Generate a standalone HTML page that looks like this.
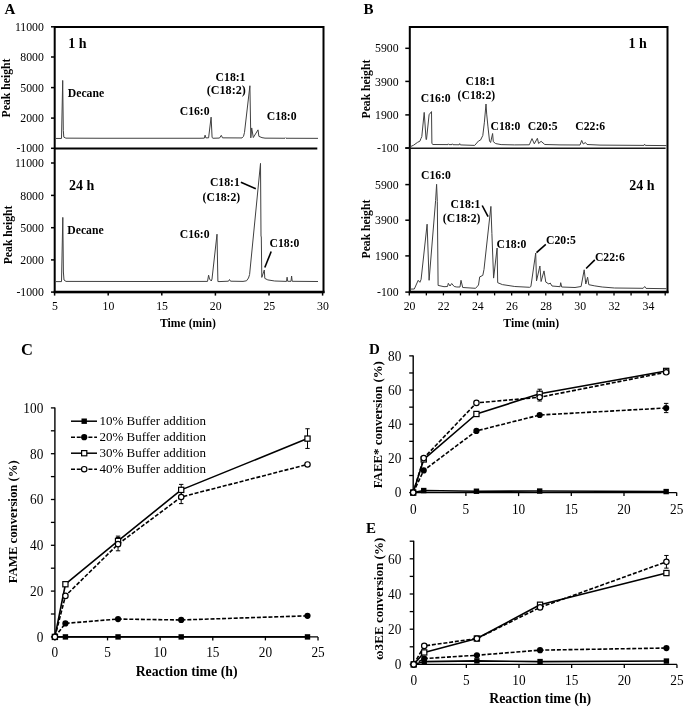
<!DOCTYPE html>
<html><head><meta charset="utf-8"><style>
html,body{margin:0;padding:0;background:#fff;}
svg{display:block;will-change:transform;}
text{font-family:"Liberation Serif", serif;fill:#000;}
</style></head><body>
<svg width="685" height="707" viewBox="0 0 685 707">
<rect width="685" height="707" fill="#fff"/>
<text x="4.60" y="13.50" font-size="15" font-weight="bold" text-anchor="start">A</text>
<rect x="54.7" y="27.0" width="268.8" height="265.1" fill="none" stroke="#000" stroke-width="2.0"/>
<line x1="54.90" y1="148.50" x2="317.30" y2="148.50" stroke="#000" stroke-width="2.0"/>
<line x1="53.70" y1="292.10" x2="324.50" y2="292.10" stroke="#000" stroke-width="2.5"/>
<line x1="51.00" y1="26.80" x2="54.90" y2="26.80" stroke="#000" stroke-width="1.5"/>
<text transform="translate(43.90,30.95) scale(1,1.04)" font-size="11.8" font-weight="normal" text-anchor="end">11000</text>
<line x1="51.00" y1="57.00" x2="54.90" y2="57.00" stroke="#000" stroke-width="1.5"/>
<text transform="translate(43.90,61.15) scale(1,1.04)" font-size="11.8" font-weight="normal" text-anchor="end">8000</text>
<line x1="51.00" y1="87.60" x2="54.90" y2="87.60" stroke="#000" stroke-width="1.5"/>
<text transform="translate(43.90,91.75) scale(1,1.04)" font-size="11.8" font-weight="normal" text-anchor="end">5000</text>
<line x1="51.00" y1="118.10" x2="54.90" y2="118.10" stroke="#000" stroke-width="1.5"/>
<text transform="translate(43.90,122.25) scale(1,1.04)" font-size="11.8" font-weight="normal" text-anchor="end">2000</text>
<line x1="51.00" y1="148.30" x2="54.90" y2="148.30" stroke="#000" stroke-width="1.5"/>
<text transform="translate(43.90,152.45) scale(1,1.04)" font-size="11.8" font-weight="normal" text-anchor="end">-1000</text>
<line x1="51.00" y1="163.00" x2="54.90" y2="163.00" stroke="#000" stroke-width="1.5"/>
<text transform="translate(43.90,167.15) scale(1,1.04)" font-size="11.8" font-weight="normal" text-anchor="end">11000</text>
<line x1="51.00" y1="195.40" x2="54.90" y2="195.40" stroke="#000" stroke-width="1.5"/>
<text transform="translate(43.90,199.55) scale(1,1.04)" font-size="11.8" font-weight="normal" text-anchor="end">8000</text>
<line x1="51.00" y1="227.70" x2="54.90" y2="227.70" stroke="#000" stroke-width="1.5"/>
<text transform="translate(43.90,231.85) scale(1,1.04)" font-size="11.8" font-weight="normal" text-anchor="end">5000</text>
<line x1="51.00" y1="259.90" x2="54.90" y2="259.90" stroke="#000" stroke-width="1.5"/>
<text transform="translate(43.90,264.05) scale(1,1.04)" font-size="11.8" font-weight="normal" text-anchor="end">2000</text>
<line x1="51.00" y1="292.10" x2="54.90" y2="292.10" stroke="#000" stroke-width="1.5"/>
<text transform="translate(43.90,296.25) scale(1,1.04)" font-size="11.8" font-weight="normal" text-anchor="end">-1000</text>
<line x1="54.60" y1="292.10" x2="54.60" y2="295.60" stroke="#000" stroke-width="1.5"/>
<text transform="translate(54.90,310.45) scale(1,1.05)" font-size="11.8" font-weight="normal" text-anchor="middle">5</text>
<line x1="108.20" y1="292.10" x2="108.20" y2="295.60" stroke="#000" stroke-width="1.5"/>
<text transform="translate(108.50,310.45) scale(1,1.05)" font-size="11.8" font-weight="normal" text-anchor="middle">10</text>
<line x1="161.80" y1="292.10" x2="161.80" y2="295.60" stroke="#000" stroke-width="1.5"/>
<text transform="translate(162.10,310.45) scale(1,1.05)" font-size="11.8" font-weight="normal" text-anchor="middle">15</text>
<line x1="215.40" y1="292.10" x2="215.40" y2="295.60" stroke="#000" stroke-width="1.5"/>
<text transform="translate(215.70,310.45) scale(1,1.05)" font-size="11.8" font-weight="normal" text-anchor="middle">20</text>
<line x1="269.00" y1="292.10" x2="269.00" y2="295.60" stroke="#000" stroke-width="1.5"/>
<text transform="translate(269.30,310.45) scale(1,1.05)" font-size="11.8" font-weight="normal" text-anchor="middle">25</text>
<line x1="322.60" y1="292.10" x2="322.60" y2="295.60" stroke="#000" stroke-width="1.5"/>
<text transform="translate(322.90,310.45) scale(1,1.05)" font-size="11.8" font-weight="normal" text-anchor="middle">30</text>
<text x="188.00" y="326.80" font-size="11.7" font-weight="bold" text-anchor="middle">Time (min)</text>
<text transform="translate(10.30,88.00) rotate(-90)" font-size="11.7" font-weight="bold" text-anchor="middle">Peak height</text>
<text transform="translate(11.80,234.90) rotate(-90)" font-size="11.7" font-weight="bold" text-anchor="middle">Peak height</text>
<polyline points="55.80,138.45 61.50,138.45 62.70,80.45 63.30,130.35 63.80,137.15 65.90,138.15 100.00,138.25 200.00,138.25 204.30,138.15 205.10,135.15 205.80,137.85 208.60,137.85 211.10,117.15 212.10,137.55 213.00,138.25 219.50,138.05 221.30,135.35 222.50,137.85 242.00,137.95 243.50,136.35 244.50,132.35 249.90,85.75 250.80,137.85 251.70,127.95 253.30,137.55 258.00,129.85 258.90,136.35 262.00,137.65 265.00,138.15 285.00,138.25 285.50,137.75 286.00,138.25 318.00,138.35" fill="none" stroke="#404040" stroke-width="1.0" stroke-linejoin="round"/>
<polyline points="55.80,281.60 61.50,281.60 62.80,217.40 63.40,272.00 64.00,280.00 66.00,281.40 150.00,281.50 207.50,281.40 208.60,275.20 209.50,279.00 211.30,281.00 212.00,279.00 217.00,234.20 217.90,281.50 219.00,281.60 228.50,281.20 229.50,279.50 230.50,281.20 243.00,281.40 246.50,280.80 248.50,278.00 249.60,274.50 260.50,163.40 261.00,236.00 261.30,237.00 261.80,277.40 264.30,270.00 264.80,278.40 267.80,279.90 274.70,281.00 286.50,281.40 287.10,277.20 287.70,281.30 291.00,281.30 291.60,276.00 292.20,281.30 318.00,281.50" fill="none" stroke="#404040" stroke-width="1.0" stroke-linejoin="round"/>
<text x="67.80" y="97.00" font-size="11.7" font-weight="bold" text-anchor="start">Decane</text>
<text x="68.30" y="48.40" font-size="14" font-weight="bold" text-anchor="start">1 h</text>
<text x="179.70" y="114.60" font-size="11.7" font-weight="bold" text-anchor="start">C16:0</text>
<text x="215.60" y="80.90" font-size="11.7" font-weight="bold" text-anchor="start">C18:1</text>
<text x="206.80" y="94.10" font-size="12.1" font-weight="bold" text-anchor="start">(C18:2)</text>
<text x="266.70" y="119.60" font-size="11.7" font-weight="bold" text-anchor="start">C18:0</text>
<text x="67.30" y="233.80" font-size="11.7" font-weight="bold" text-anchor="start">Decane</text>
<text x="68.90" y="190.20" font-size="14" font-weight="bold" text-anchor="start">24 h</text>
<text x="179.70" y="237.50" font-size="11.7" font-weight="bold" text-anchor="start">C16:0</text>
<text x="209.90" y="186.00" font-size="11.7" font-weight="bold" text-anchor="start">C18:1</text>
<text x="202.60" y="200.50" font-size="11.7" font-weight="bold" text-anchor="start">(C18:2)</text>
<text x="269.50" y="247.20" font-size="11.7" font-weight="bold" text-anchor="start">C18:0</text>
<line x1="240.90" y1="182.30" x2="255.80" y2="188.70" stroke="#000" stroke-width="1.6"/>
<line x1="271.20" y1="251.50" x2="264.80" y2="267.50" stroke="#000" stroke-width="1.6"/>
<text x="363.60" y="13.60" font-size="15" font-weight="bold" text-anchor="start">B</text>
<rect x="409.8" y="27.0" width="257.7" height="265.1" fill="none" stroke="#000" stroke-width="2.0"/>
<line x1="405.30" y1="148.30" x2="665.60" y2="148.30" stroke="#1a1a1a" stroke-width="1.6"/>
<line x1="408.80" y1="292.10" x2="668.50" y2="292.10" stroke="#000" stroke-width="2.5"/>
<line x1="405.30" y1="48.30" x2="409.40" y2="48.30" stroke="#000" stroke-width="1.5"/>
<text transform="translate(398.60,52.45) scale(1,1.04)" font-size="11.8" font-weight="normal" text-anchor="end">5900</text>
<line x1="405.30" y1="81.40" x2="409.40" y2="81.40" stroke="#000" stroke-width="1.5"/>
<text transform="translate(398.60,85.55) scale(1,1.04)" font-size="11.8" font-weight="normal" text-anchor="end">3900</text>
<line x1="405.30" y1="114.90" x2="409.40" y2="114.90" stroke="#000" stroke-width="1.5"/>
<text transform="translate(398.60,119.05) scale(1,1.04)" font-size="11.8" font-weight="normal" text-anchor="end">1900</text>
<line x1="405.30" y1="147.90" x2="409.40" y2="147.90" stroke="#000" stroke-width="1.5"/>
<text transform="translate(398.60,152.05) scale(1,1.04)" font-size="11.8" font-weight="normal" text-anchor="end">-100</text>
<line x1="405.30" y1="184.60" x2="409.40" y2="184.60" stroke="#000" stroke-width="1.5"/>
<text transform="translate(398.60,188.75) scale(1,1.04)" font-size="11.8" font-weight="normal" text-anchor="end">5900</text>
<line x1="405.30" y1="220.20" x2="409.40" y2="220.20" stroke="#000" stroke-width="1.5"/>
<text transform="translate(398.60,224.35) scale(1,1.04)" font-size="11.8" font-weight="normal" text-anchor="end">3900</text>
<line x1="405.30" y1="255.90" x2="409.40" y2="255.90" stroke="#000" stroke-width="1.5"/>
<text transform="translate(398.60,260.05) scale(1,1.04)" font-size="11.8" font-weight="normal" text-anchor="end">1900</text>
<line x1="405.30" y1="292.10" x2="409.40" y2="292.10" stroke="#000" stroke-width="1.5"/>
<text transform="translate(398.60,296.25) scale(1,1.04)" font-size="11.8" font-weight="normal" text-anchor="end">-100</text>
<line x1="409.30" y1="292.10" x2="409.30" y2="295.40" stroke="#000" stroke-width="1.3"/>
<text transform="translate(409.60,310.20) scale(1,1.05)" font-size="11.8" font-weight="normal" text-anchor="middle">20</text>
<line x1="426.36" y1="292.10" x2="426.36" y2="295.40" stroke="#000" stroke-width="1.3"/>
<line x1="443.42" y1="292.10" x2="443.42" y2="295.40" stroke="#000" stroke-width="1.3"/>
<text transform="translate(443.72,310.20) scale(1,1.05)" font-size="11.8" font-weight="normal" text-anchor="middle">22</text>
<line x1="460.48" y1="292.10" x2="460.48" y2="295.40" stroke="#000" stroke-width="1.3"/>
<line x1="477.54" y1="292.10" x2="477.54" y2="295.40" stroke="#000" stroke-width="1.3"/>
<text transform="translate(477.84,310.20) scale(1,1.05)" font-size="11.8" font-weight="normal" text-anchor="middle">24</text>
<line x1="494.60" y1="292.10" x2="494.60" y2="295.40" stroke="#000" stroke-width="1.3"/>
<line x1="511.66" y1="292.10" x2="511.66" y2="295.40" stroke="#000" stroke-width="1.3"/>
<text transform="translate(511.96,310.20) scale(1,1.05)" font-size="11.8" font-weight="normal" text-anchor="middle">26</text>
<line x1="528.72" y1="292.10" x2="528.72" y2="295.40" stroke="#000" stroke-width="1.3"/>
<line x1="545.78" y1="292.10" x2="545.78" y2="295.40" stroke="#000" stroke-width="1.3"/>
<text transform="translate(546.08,310.20) scale(1,1.05)" font-size="11.8" font-weight="normal" text-anchor="middle">28</text>
<line x1="562.84" y1="292.10" x2="562.84" y2="295.40" stroke="#000" stroke-width="1.3"/>
<line x1="579.90" y1="292.10" x2="579.90" y2="295.40" stroke="#000" stroke-width="1.3"/>
<text transform="translate(580.20,310.20) scale(1,1.05)" font-size="11.8" font-weight="normal" text-anchor="middle">30</text>
<line x1="596.96" y1="292.10" x2="596.96" y2="295.40" stroke="#000" stroke-width="1.3"/>
<line x1="614.02" y1="292.10" x2="614.02" y2="295.40" stroke="#000" stroke-width="1.3"/>
<text transform="translate(614.32,310.20) scale(1,1.05)" font-size="11.8" font-weight="normal" text-anchor="middle">32</text>
<line x1="631.08" y1="292.10" x2="631.08" y2="295.40" stroke="#000" stroke-width="1.3"/>
<line x1="648.14" y1="292.10" x2="648.14" y2="295.40" stroke="#000" stroke-width="1.3"/>
<text transform="translate(648.44,310.20) scale(1,1.05)" font-size="11.8" font-weight="normal" text-anchor="middle">34</text>
<line x1="665.20" y1="292.10" x2="665.20" y2="295.40" stroke="#000" stroke-width="1.3"/>
<text x="531.30" y="326.80" font-size="11.7" font-weight="bold" text-anchor="middle">Time (min)</text>
<text transform="translate(370.00,89.10) rotate(-90)" font-size="11.7" font-weight="bold" text-anchor="middle">Peak height</text>
<text transform="translate(370.00,229.10) rotate(-90)" font-size="11.7" font-weight="bold" text-anchor="middle">Peak height</text>
<polyline points="410.50,146.60 413.60,145.20 417.60,142.30 419.90,141.20 421.00,138.40 421.80,136.60 424.20,112.40 426.10,139.60 426.50,139.40 429.10,114.70 431.50,111.60 431.90,143.60 433.00,144.50 448.00,144.60 448.40,143.80 449.00,144.60 452.00,144.60 452.40,143.80 453.00,144.70 459.20,144.80 459.70,143.60 460.30,144.90 474.70,145.40 478.60,140.90 480.50,140.10 482.80,135.50 484.40,122.20 486.00,104.00 486.70,114.10 487.90,126.10 489.50,140.90 490.60,142.50 492.60,133.50 493.30,141.70 495.70,143.60 501.10,144.60 514.50,144.90 529.30,144.80 532.00,138.60 534.30,143.80 537.40,138.30 538.60,143.50 541.10,141.30 544.80,144.50 560.00,144.90 580.00,145.00 581.70,140.40 583.30,144.00 585.40,142.50 587.00,144.50 600.00,145.10 644.00,145.40 644.60,144.20 645.30,145.40 666.50,145.60" fill="none" stroke="#404040" stroke-width="1.0" stroke-linejoin="round"/>
<polyline points="410.30,289.10 414.30,289.00 418.20,280.30 419.90,282.30 421.10,279.40 427.10,224.20 429.10,280.30 435.60,200.50 436.60,184.30 437.30,201.30 438.10,285.40 444.00,286.70 447.50,286.50 448.30,283.30 450.00,286.00 451.70,283.50 454.20,286.50 456.80,287.00 460.00,287.00 461.00,280.30 462.70,287.50 475.60,288.30 478.50,285.00 479.70,276.90 482.80,275.40 484.00,269.40 490.90,206.40 491.90,233.50 493.60,278.10 497.10,248.00 497.70,282.70 502.40,284.60 514.80,286.50 529.70,287.30 530.90,286.50 535.70,253.00 536.50,280.90 539.90,266.00 541.10,281.50 544.00,270.90 545.80,282.10 548.90,284.00 550.20,283.00 552.00,286.00 560.10,286.70 560.70,282.70 561.70,287.00 575.00,287.50 581.10,286.50 584.20,269.80 585.80,284.00 587.60,277.20 588.80,284.70 594.80,285.90 602.20,287.00 614.60,288.00 643.20,288.30 644.70,286.50 646.00,288.40 666.50,288.70" fill="none" stroke="#404040" stroke-width="1.0" stroke-linejoin="round"/>
<text x="420.80" y="102.00" font-size="11.7" font-weight="bold" text-anchor="start">C16:0</text>
<text x="465.50" y="84.60" font-size="11.7" font-weight="bold" text-anchor="start">C18:1</text>
<text x="457.60" y="98.90" font-size="11.7" font-weight="bold" text-anchor="start">(C18:2)</text>
<text x="490.50" y="129.70" font-size="11.7" font-weight="bold" text-anchor="start">C18:0</text>
<text x="527.80" y="129.90" font-size="11.7" font-weight="bold" text-anchor="start">C20:5</text>
<text x="575.30" y="129.90" font-size="11.7" font-weight="bold" text-anchor="start">C22:6</text>
<text x="628.40" y="47.90" font-size="14" font-weight="bold" text-anchor="start">1 h</text>
<text x="421.00" y="179.30" font-size="11.7" font-weight="bold" text-anchor="start">C16:0</text>
<text x="450.60" y="208.20" font-size="11.7" font-weight="bold" text-anchor="start">C18:1</text>
<text x="442.80" y="221.90" font-size="11.7" font-weight="bold" text-anchor="start">(C18:2)</text>
<text x="496.50" y="248.10" font-size="11.7" font-weight="bold" text-anchor="start">C18:0</text>
<text x="546.00" y="244.20" font-size="11.7" font-weight="bold" text-anchor="start">C20:5</text>
<text x="594.90" y="260.60" font-size="11.7" font-weight="bold" text-anchor="start">C22:6</text>
<text x="629.20" y="189.90" font-size="14" font-weight="bold" text-anchor="start">24 h</text>
<line x1="482.20" y1="205.50" x2="488.10" y2="216.70" stroke="#000" stroke-width="1.6"/>
<line x1="545.80" y1="244.30" x2="536.50" y2="252.60" stroke="#000" stroke-width="1.6"/>
<line x1="594.80" y1="259.90" x2="586.10" y2="268.50" stroke="#000" stroke-width="1.6"/>
<text x="21.00" y="354.90" font-size="16.5" font-weight="bold" text-anchor="start">C</text>
<line x1="54.90" y1="407.40" x2="54.90" y2="636.90" stroke="#000" stroke-width="1.4"/>
<line x1="54.90" y1="636.90" x2="318.02" y2="636.90" stroke="#000" stroke-width="1.4"/>
<line x1="50.90" y1="636.90" x2="54.90" y2="636.90" stroke="#000" stroke-width="1.3"/>
<text transform="translate(43.30,641.70) scale(1,1.07)" font-size="13.3" font-weight="normal" text-anchor="end">0</text>
<line x1="50.90" y1="614.00" x2="54.90" y2="614.00" stroke="#000" stroke-width="1.3"/>
<line x1="50.90" y1="591.10" x2="54.90" y2="591.10" stroke="#000" stroke-width="1.3"/>
<text transform="translate(43.30,595.90) scale(1,1.07)" font-size="13.3" font-weight="normal" text-anchor="end">20</text>
<line x1="50.90" y1="568.20" x2="54.90" y2="568.20" stroke="#000" stroke-width="1.3"/>
<line x1="50.90" y1="545.30" x2="54.90" y2="545.30" stroke="#000" stroke-width="1.3"/>
<text transform="translate(43.30,550.10) scale(1,1.07)" font-size="13.3" font-weight="normal" text-anchor="end">40</text>
<line x1="50.90" y1="522.40" x2="54.90" y2="522.40" stroke="#000" stroke-width="1.3"/>
<line x1="50.90" y1="499.50" x2="54.90" y2="499.50" stroke="#000" stroke-width="1.3"/>
<text transform="translate(43.30,504.30) scale(1,1.07)" font-size="13.3" font-weight="normal" text-anchor="end">60</text>
<line x1="50.90" y1="476.60" x2="54.90" y2="476.60" stroke="#000" stroke-width="1.3"/>
<line x1="50.90" y1="453.70" x2="54.90" y2="453.70" stroke="#000" stroke-width="1.3"/>
<text transform="translate(43.30,458.50) scale(1,1.07)" font-size="13.3" font-weight="normal" text-anchor="end">80</text>
<line x1="50.90" y1="430.80" x2="54.90" y2="430.80" stroke="#000" stroke-width="1.3"/>
<line x1="50.90" y1="407.90" x2="54.90" y2="407.90" stroke="#000" stroke-width="1.3"/>
<text transform="translate(43.30,412.70) scale(1,1.07)" font-size="13.3" font-weight="normal" text-anchor="end">100</text>
<line x1="54.90" y1="636.90" x2="54.90" y2="640.40" stroke="#000" stroke-width="1.3"/>
<text transform="translate(54.90,657.40) scale(1,1.07)" font-size="13.3" font-weight="normal" text-anchor="middle">0</text>
<line x1="107.53" y1="636.90" x2="107.53" y2="640.40" stroke="#000" stroke-width="1.3"/>
<text transform="translate(107.53,657.40) scale(1,1.07)" font-size="13.3" font-weight="normal" text-anchor="middle">5</text>
<line x1="160.15" y1="636.90" x2="160.15" y2="640.40" stroke="#000" stroke-width="1.3"/>
<text transform="translate(160.15,657.40) scale(1,1.07)" font-size="13.3" font-weight="normal" text-anchor="middle">10</text>
<line x1="212.78" y1="636.90" x2="212.78" y2="640.40" stroke="#000" stroke-width="1.3"/>
<text transform="translate(212.78,657.40) scale(1,1.07)" font-size="13.3" font-weight="normal" text-anchor="middle">15</text>
<line x1="265.40" y1="636.90" x2="265.40" y2="640.40" stroke="#000" stroke-width="1.3"/>
<text transform="translate(265.40,657.40) scale(1,1.07)" font-size="13.3" font-weight="normal" text-anchor="middle">20</text>
<line x1="318.02" y1="636.90" x2="318.02" y2="640.40" stroke="#000" stroke-width="1.3"/>
<text transform="translate(318.02,657.40) scale(1,1.07)" font-size="13.3" font-weight="normal" text-anchor="middle">25</text>
<text x="186.60" y="676.20" font-size="13.8" font-weight="bold" text-anchor="middle">Reaction time (h)</text>
<text transform="translate(17.10,521.70) rotate(-90)" font-size="12.75" font-weight="bold" text-anchor="middle">FAME conversion (%)</text>
<line x1="118.05" y1="536.14" x2="118.05" y2="545.76" stroke="#000" stroke-width="1.0"/>
<line x1="115.85" y1="536.14" x2="120.25" y2="536.14" stroke="#000" stroke-width="1.0"/>
<line x1="115.85" y1="545.76" x2="120.25" y2="545.76" stroke="#000" stroke-width="1.0"/>
<line x1="118.05" y1="537.51" x2="118.05" y2="550.80" stroke="#000" stroke-width="1.0"/>
<line x1="115.85" y1="537.51" x2="120.25" y2="537.51" stroke="#000" stroke-width="1.0"/>
<line x1="115.85" y1="550.80" x2="120.25" y2="550.80" stroke="#000" stroke-width="1.0"/>
<line x1="181.20" y1="484.39" x2="181.20" y2="495.38" stroke="#000" stroke-width="1.0"/>
<line x1="179.00" y1="484.39" x2="183.40" y2="484.39" stroke="#000" stroke-width="1.0"/>
<line x1="179.00" y1="495.38" x2="183.40" y2="495.38" stroke="#000" stroke-width="1.0"/>
<line x1="181.20" y1="490.34" x2="181.20" y2="503.62" stroke="#000" stroke-width="1.0"/>
<line x1="179.00" y1="490.34" x2="183.40" y2="490.34" stroke="#000" stroke-width="1.0"/>
<line x1="179.00" y1="503.62" x2="183.40" y2="503.62" stroke="#000" stroke-width="1.0"/>
<line x1="307.50" y1="428.74" x2="307.50" y2="448.43" stroke="#000" stroke-width="1.0"/>
<line x1="305.30" y1="428.74" x2="309.70" y2="428.74" stroke="#000" stroke-width="1.0"/>
<line x1="305.30" y1="448.43" x2="309.70" y2="448.43" stroke="#000" stroke-width="1.0"/>
<polyline points="54.90,636.90 65.42,636.90 118.05,636.90 181.20,636.90 307.50,636.90" fill="none" stroke="#000" stroke-width="1.6" stroke-linejoin="round"/>
<polyline points="54.90,636.90 65.42,623.39 118.05,619.04 181.20,619.95 307.50,615.83" fill="none" stroke="#000" stroke-width="1.6" stroke-linejoin="round" stroke-dasharray="4 1.8"/>
<polyline points="54.90,636.90 65.42,584.23 118.05,540.95 181.20,489.88 307.50,438.59" fill="none" stroke="#000" stroke-width="1.6" stroke-linejoin="round"/>
<polyline points="54.90,636.90 65.42,595.91 118.05,544.15 181.20,496.98 307.50,464.46" fill="none" stroke="#000" stroke-width="1.6" stroke-linejoin="round" stroke-dasharray="4 1.8"/>
<rect x="52.20" y="634.20" width="5.4" height="5.4" fill="#000"/>
<rect x="62.72" y="634.20" width="5.4" height="5.4" fill="#000"/>
<rect x="115.35" y="634.20" width="5.4" height="5.4" fill="#000"/>
<rect x="178.50" y="634.20" width="5.4" height="5.4" fill="#000"/>
<rect x="304.80" y="634.20" width="5.4" height="5.4" fill="#000"/>
<circle cx="54.90" cy="636.90" r="3.1" fill="#000"/>
<circle cx="65.42" cy="623.39" r="3.1" fill="#000"/>
<circle cx="118.05" cy="619.04" r="3.1" fill="#000"/>
<circle cx="181.20" cy="619.95" r="3.1" fill="#000"/>
<circle cx="307.50" cy="615.83" r="3.1" fill="#000"/>
<rect x="52.30" y="634.30" width="5.2" height="5.2" fill="#fff" stroke="#000" stroke-width="1.2"/>
<rect x="62.82" y="581.63" width="5.2" height="5.2" fill="#fff" stroke="#000" stroke-width="1.2"/>
<rect x="115.45" y="538.35" width="5.2" height="5.2" fill="#fff" stroke="#000" stroke-width="1.2"/>
<rect x="178.60" y="487.28" width="5.2" height="5.2" fill="#fff" stroke="#000" stroke-width="1.2"/>
<rect x="304.90" y="435.99" width="5.2" height="5.2" fill="#fff" stroke="#000" stroke-width="1.2"/>
<circle cx="54.90" cy="636.90" r="2.7" fill="#fff" stroke="#000" stroke-width="1.2"/>
<circle cx="65.42" cy="595.91" r="2.7" fill="#fff" stroke="#000" stroke-width="1.2"/>
<circle cx="118.05" cy="544.15" r="2.7" fill="#fff" stroke="#000" stroke-width="1.2"/>
<circle cx="181.20" cy="496.98" r="2.7" fill="#fff" stroke="#000" stroke-width="1.2"/>
<circle cx="307.50" cy="464.46" r="2.7" fill="#fff" stroke="#000" stroke-width="1.2"/>
<line x1="71.00" y1="421.20" x2="97.00" y2="421.20" stroke="#000" stroke-width="1.5"/>
<rect x="81.50" y="418.50" width="5.4" height="5.4" fill="#000"/>
<text x="99.40" y="424.90" font-size="13.0" font-weight="normal" text-anchor="start">10% Buffer addition</text>
<line x1="71.00" y1="437.20" x2="97.00" y2="437.20" stroke="#000" stroke-width="1.5" stroke-dasharray="4 1.8"/>
<circle cx="84.20" cy="437.20" r="3.1" fill="#000"/>
<text x="99.40" y="440.90" font-size="13.0" font-weight="normal" text-anchor="start">20% Buffer addition</text>
<line x1="71.00" y1="453.20" x2="97.00" y2="453.20" stroke="#000" stroke-width="1.5"/>
<rect x="81.60" y="450.60" width="5.2" height="5.2" fill="#fff" stroke="#000" stroke-width="1.2"/>
<text x="99.40" y="456.90" font-size="13.0" font-weight="normal" text-anchor="start">30% Buffer addition</text>
<line x1="71.00" y1="469.20" x2="97.00" y2="469.20" stroke="#000" stroke-width="1.5" stroke-dasharray="4 1.8"/>
<circle cx="84.20" cy="469.20" r="2.7" fill="#fff" stroke="#000" stroke-width="1.2"/>
<text x="99.40" y="472.90" font-size="13.0" font-weight="normal" text-anchor="start">40% Buffer addition</text>
<text x="369.00" y="354.40" font-size="15" font-weight="bold" text-anchor="start">D</text>
<line x1="413.20" y1="355.38" x2="413.20" y2="492.60" stroke="#000" stroke-width="1.4"/>
<line x1="413.20" y1="492.60" x2="676.70" y2="492.60" stroke="#000" stroke-width="1.4"/>
<line x1="409.20" y1="492.60" x2="413.20" y2="492.60" stroke="#000" stroke-width="1.3"/>
<text transform="translate(401.30,497.40) scale(1,1.07)" font-size="13.3" font-weight="normal" text-anchor="end">0</text>
<line x1="409.20" y1="475.51" x2="413.20" y2="475.51" stroke="#000" stroke-width="1.3"/>
<line x1="409.20" y1="458.42" x2="413.20" y2="458.42" stroke="#000" stroke-width="1.3"/>
<text transform="translate(401.30,463.22) scale(1,1.07)" font-size="13.3" font-weight="normal" text-anchor="end">20</text>
<line x1="409.20" y1="441.33" x2="413.20" y2="441.33" stroke="#000" stroke-width="1.3"/>
<line x1="409.20" y1="424.24" x2="413.20" y2="424.24" stroke="#000" stroke-width="1.3"/>
<text transform="translate(401.30,429.04) scale(1,1.07)" font-size="13.3" font-weight="normal" text-anchor="end">40</text>
<line x1="409.20" y1="407.15" x2="413.20" y2="407.15" stroke="#000" stroke-width="1.3"/>
<line x1="409.20" y1="390.06" x2="413.20" y2="390.06" stroke="#000" stroke-width="1.3"/>
<text transform="translate(401.30,394.86) scale(1,1.07)" font-size="13.3" font-weight="normal" text-anchor="end">60</text>
<line x1="409.20" y1="372.97" x2="413.20" y2="372.97" stroke="#000" stroke-width="1.3"/>
<line x1="409.20" y1="355.88" x2="413.20" y2="355.88" stroke="#000" stroke-width="1.3"/>
<text transform="translate(401.30,360.68) scale(1,1.07)" font-size="13.3" font-weight="normal" text-anchor="end">80</text>
<line x1="413.20" y1="492.60" x2="413.20" y2="496.10" stroke="#000" stroke-width="1.3"/>
<text transform="translate(413.20,513.60) scale(1,1.07)" font-size="13.3" font-weight="normal" text-anchor="middle">0</text>
<line x1="465.90" y1="492.60" x2="465.90" y2="496.10" stroke="#000" stroke-width="1.3"/>
<text transform="translate(465.90,513.60) scale(1,1.07)" font-size="13.3" font-weight="normal" text-anchor="middle">5</text>
<line x1="518.60" y1="492.60" x2="518.60" y2="496.10" stroke="#000" stroke-width="1.3"/>
<text transform="translate(518.60,513.60) scale(1,1.07)" font-size="13.3" font-weight="normal" text-anchor="middle">10</text>
<line x1="571.30" y1="492.60" x2="571.30" y2="496.10" stroke="#000" stroke-width="1.3"/>
<text transform="translate(571.30,513.60) scale(1,1.07)" font-size="13.3" font-weight="normal" text-anchor="middle">15</text>
<line x1="624.00" y1="492.60" x2="624.00" y2="496.10" stroke="#000" stroke-width="1.3"/>
<text transform="translate(624.00,513.60) scale(1,1.07)" font-size="13.3" font-weight="normal" text-anchor="middle">20</text>
<line x1="676.70" y1="492.60" x2="676.70" y2="496.10" stroke="#000" stroke-width="1.3"/>
<text transform="translate(676.70,513.60) scale(1,1.07)" font-size="13.3" font-weight="normal" text-anchor="middle">25</text>
<text transform="translate(382.20,424.70) rotate(-90)" font-size="12.9" font-weight="bold" text-anchor="middle">FAEE* conversion (%)</text>
<line x1="539.68" y1="389.21" x2="539.68" y2="398.43" stroke="#000" stroke-width="1.0"/>
<line x1="537.48" y1="389.21" x2="541.88" y2="389.21" stroke="#000" stroke-width="1.0"/>
<line x1="537.48" y1="398.43" x2="541.88" y2="398.43" stroke="#000" stroke-width="1.0"/>
<line x1="539.68" y1="393.48" x2="539.68" y2="401.00" stroke="#000" stroke-width="1.0"/>
<line x1="537.48" y1="393.48" x2="541.88" y2="393.48" stroke="#000" stroke-width="1.0"/>
<line x1="537.48" y1="401.00" x2="541.88" y2="401.00" stroke="#000" stroke-width="1.0"/>
<line x1="666.16" y1="403.39" x2="666.16" y2="412.62" stroke="#000" stroke-width="1.0"/>
<line x1="663.96" y1="403.39" x2="668.36" y2="403.39" stroke="#000" stroke-width="1.0"/>
<line x1="663.96" y1="412.62" x2="668.36" y2="412.62" stroke="#000" stroke-width="1.0"/>
<line x1="666.16" y1="369.21" x2="666.16" y2="372.63" stroke="#000" stroke-width="1.0"/>
<line x1="663.96" y1="369.21" x2="668.36" y2="369.21" stroke="#000" stroke-width="1.0"/>
<line x1="663.96" y1="372.63" x2="668.36" y2="372.63" stroke="#000" stroke-width="1.0"/>
<polyline points="413.20,492.60 423.74,490.55 476.44,491.23 539.68,491.06 666.16,491.57" fill="none" stroke="#000" stroke-width="1.6" stroke-linejoin="round"/>
<polyline points="413.20,492.60 423.74,470.38 476.44,430.91 539.68,415.01 666.16,408.00" fill="none" stroke="#000" stroke-width="1.6" stroke-linejoin="round" stroke-dasharray="4 1.8"/>
<polyline points="413.20,492.60 423.74,459.45 476.44,413.99 539.68,393.82 666.16,370.92" fill="none" stroke="#000" stroke-width="1.6" stroke-linejoin="round"/>
<polyline points="413.20,492.60 423.74,458.08 476.44,402.88 539.68,397.24 666.16,372.29" fill="none" stroke="#000" stroke-width="1.6" stroke-linejoin="round" stroke-dasharray="4 1.8"/>
<rect x="410.50" y="489.90" width="5.4" height="5.4" fill="#000"/>
<rect x="421.04" y="487.85" width="5.4" height="5.4" fill="#000"/>
<rect x="473.74" y="488.53" width="5.4" height="5.4" fill="#000"/>
<rect x="536.98" y="488.36" width="5.4" height="5.4" fill="#000"/>
<rect x="663.46" y="488.87" width="5.4" height="5.4" fill="#000"/>
<circle cx="413.20" cy="492.60" r="3.1" fill="#000"/>
<circle cx="423.74" cy="470.38" r="3.1" fill="#000"/>
<circle cx="476.44" cy="430.91" r="3.1" fill="#000"/>
<circle cx="539.68" cy="415.01" r="3.1" fill="#000"/>
<circle cx="666.16" cy="408.00" r="3.1" fill="#000"/>
<rect x="410.60" y="490.00" width="5.2" height="5.2" fill="#fff" stroke="#000" stroke-width="1.2"/>
<rect x="421.14" y="456.85" width="5.2" height="5.2" fill="#fff" stroke="#000" stroke-width="1.2"/>
<rect x="473.84" y="411.39" width="5.2" height="5.2" fill="#fff" stroke="#000" stroke-width="1.2"/>
<rect x="537.08" y="391.22" width="5.2" height="5.2" fill="#fff" stroke="#000" stroke-width="1.2"/>
<rect x="663.56" y="368.32" width="5.2" height="5.2" fill="#fff" stroke="#000" stroke-width="1.2"/>
<circle cx="413.20" cy="492.60" r="2.7" fill="#fff" stroke="#000" stroke-width="1.2"/>
<circle cx="423.74" cy="458.08" r="2.7" fill="#fff" stroke="#000" stroke-width="1.2"/>
<circle cx="476.44" cy="402.88" r="2.7" fill="#fff" stroke="#000" stroke-width="1.2"/>
<circle cx="539.68" cy="397.24" r="2.7" fill="#fff" stroke="#000" stroke-width="1.2"/>
<circle cx="666.16" cy="372.29" r="2.7" fill="#fff" stroke="#000" stroke-width="1.2"/>
<text x="366.00" y="532.70" font-size="15" font-weight="bold" text-anchor="start">E</text>
<line x1="413.70" y1="540.70" x2="413.70" y2="664.40" stroke="#000" stroke-width="1.4"/>
<line x1="413.70" y1="664.40" x2="676.95" y2="664.40" stroke="#000" stroke-width="1.4"/>
<line x1="409.70" y1="664.40" x2="413.70" y2="664.40" stroke="#000" stroke-width="1.3"/>
<text transform="translate(401.30,669.20) scale(1,1.07)" font-size="13.3" font-weight="normal" text-anchor="end">0</text>
<line x1="409.70" y1="646.80" x2="413.70" y2="646.80" stroke="#000" stroke-width="1.3"/>
<line x1="409.70" y1="629.20" x2="413.70" y2="629.20" stroke="#000" stroke-width="1.3"/>
<text transform="translate(401.30,634.00) scale(1,1.07)" font-size="13.3" font-weight="normal" text-anchor="end">20</text>
<line x1="409.70" y1="611.60" x2="413.70" y2="611.60" stroke="#000" stroke-width="1.3"/>
<line x1="409.70" y1="594.00" x2="413.70" y2="594.00" stroke="#000" stroke-width="1.3"/>
<text transform="translate(401.30,598.80) scale(1,1.07)" font-size="13.3" font-weight="normal" text-anchor="end">40</text>
<line x1="409.70" y1="576.40" x2="413.70" y2="576.40" stroke="#000" stroke-width="1.3"/>
<line x1="409.70" y1="558.80" x2="413.70" y2="558.80" stroke="#000" stroke-width="1.3"/>
<text transform="translate(401.30,563.60) scale(1,1.07)" font-size="13.3" font-weight="normal" text-anchor="end">60</text>
<line x1="409.70" y1="541.20" x2="413.70" y2="541.20" stroke="#000" stroke-width="1.3"/>
<line x1="413.70" y1="664.40" x2="413.70" y2="667.90" stroke="#000" stroke-width="1.3"/>
<text transform="translate(413.70,685.00) scale(1,1.07)" font-size="13.3" font-weight="normal" text-anchor="middle">0</text>
<line x1="466.35" y1="664.40" x2="466.35" y2="667.90" stroke="#000" stroke-width="1.3"/>
<text transform="translate(466.35,685.00) scale(1,1.07)" font-size="13.3" font-weight="normal" text-anchor="middle">5</text>
<line x1="519.00" y1="664.40" x2="519.00" y2="667.90" stroke="#000" stroke-width="1.3"/>
<text transform="translate(519.00,685.00) scale(1,1.07)" font-size="13.3" font-weight="normal" text-anchor="middle">10</text>
<line x1="571.65" y1="664.40" x2="571.65" y2="667.90" stroke="#000" stroke-width="1.3"/>
<text transform="translate(571.65,685.00) scale(1,1.07)" font-size="13.3" font-weight="normal" text-anchor="middle">15</text>
<line x1="624.30" y1="664.40" x2="624.30" y2="667.90" stroke="#000" stroke-width="1.3"/>
<text transform="translate(624.30,685.00) scale(1,1.07)" font-size="13.3" font-weight="normal" text-anchor="middle">20</text>
<line x1="676.95" y1="664.40" x2="676.95" y2="667.90" stroke="#000" stroke-width="1.3"/>
<text transform="translate(676.95,685.00) scale(1,1.07)" font-size="13.3" font-weight="normal" text-anchor="middle">25</text>
<text x="540.20" y="702.90" font-size="13.8" font-weight="bold" text-anchor="middle">Reaction time (h)</text>
<text transform="translate(382.60,598.80) rotate(-90)" font-size="13.1" font-weight="bold" text-anchor="middle">&#969;3EE conversion (%)</text>
<line x1="666.42" y1="555.46" x2="666.42" y2="568.13" stroke="#000" stroke-width="1.0"/>
<line x1="664.22" y1="555.46" x2="668.62" y2="555.46" stroke="#000" stroke-width="1.0"/>
<line x1="664.22" y1="568.13" x2="668.62" y2="568.13" stroke="#000" stroke-width="1.0"/>
<line x1="666.42" y1="570.94" x2="666.42" y2="575.17" stroke="#000" stroke-width="1.0"/>
<line x1="664.22" y1="570.94" x2="668.62" y2="570.94" stroke="#000" stroke-width="1.0"/>
<line x1="664.22" y1="575.17" x2="668.62" y2="575.17" stroke="#000" stroke-width="1.0"/>
<line x1="540.06" y1="602.98" x2="540.06" y2="606.50" stroke="#000" stroke-width="1.0"/>
<line x1="537.86" y1="602.98" x2="542.26" y2="602.98" stroke="#000" stroke-width="1.0"/>
<line x1="537.86" y1="606.50" x2="542.26" y2="606.50" stroke="#000" stroke-width="1.0"/>
<polyline points="413.70,664.40 424.23,661.58 476.88,660.88 540.06,661.58 666.42,661.06" fill="none" stroke="#000" stroke-width="1.6" stroke-linejoin="round"/>
<polyline points="413.70,664.40 424.23,658.59 476.88,655.25 540.06,650.14 666.42,648.03" fill="none" stroke="#000" stroke-width="1.6" stroke-linejoin="round" stroke-dasharray="4 1.8"/>
<polyline points="413.70,664.40 424.23,652.43 476.88,638.53 540.06,604.74 666.42,573.06" fill="none" stroke="#000" stroke-width="1.6" stroke-linejoin="round"/>
<polyline points="413.70,664.40 424.23,645.92 476.88,638.53 540.06,607.38 666.42,561.79" fill="none" stroke="#000" stroke-width="1.6" stroke-linejoin="round" stroke-dasharray="4 1.8"/>
<rect x="411.00" y="661.70" width="5.4" height="5.4" fill="#000"/>
<rect x="421.53" y="658.88" width="5.4" height="5.4" fill="#000"/>
<rect x="474.18" y="658.18" width="5.4" height="5.4" fill="#000"/>
<rect x="537.36" y="658.88" width="5.4" height="5.4" fill="#000"/>
<rect x="663.72" y="658.36" width="5.4" height="5.4" fill="#000"/>
<circle cx="413.70" cy="664.40" r="3.1" fill="#000"/>
<circle cx="424.23" cy="658.59" r="3.1" fill="#000"/>
<circle cx="476.88" cy="655.25" r="3.1" fill="#000"/>
<circle cx="540.06" cy="650.14" r="3.1" fill="#000"/>
<circle cx="666.42" cy="648.03" r="3.1" fill="#000"/>
<rect x="411.10" y="661.80" width="5.2" height="5.2" fill="#fff" stroke="#000" stroke-width="1.2"/>
<rect x="421.63" y="649.83" width="5.2" height="5.2" fill="#fff" stroke="#000" stroke-width="1.2"/>
<rect x="474.28" y="635.93" width="5.2" height="5.2" fill="#fff" stroke="#000" stroke-width="1.2"/>
<rect x="537.46" y="602.14" width="5.2" height="5.2" fill="#fff" stroke="#000" stroke-width="1.2"/>
<rect x="663.82" y="570.46" width="5.2" height="5.2" fill="#fff" stroke="#000" stroke-width="1.2"/>
<circle cx="413.70" cy="664.40" r="2.7" fill="#fff" stroke="#000" stroke-width="1.2"/>
<circle cx="424.23" cy="645.92" r="2.7" fill="#fff" stroke="#000" stroke-width="1.2"/>
<circle cx="476.88" cy="638.53" r="2.7" fill="#fff" stroke="#000" stroke-width="1.2"/>
<circle cx="540.06" cy="607.38" r="2.7" fill="#fff" stroke="#000" stroke-width="1.2"/>
<circle cx="666.42" cy="561.79" r="2.7" fill="#fff" stroke="#000" stroke-width="1.2"/>
</svg>
</body></html>
